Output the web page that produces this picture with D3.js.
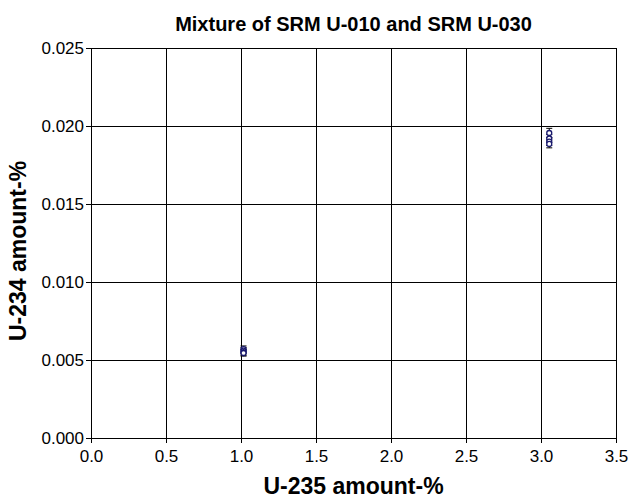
<!DOCTYPE html>
<html>
<head>
<meta charset="utf-8">
<script src="https://cdn.jsdelivr.net/npm/d3@7"></script>
<style>
  body { margin: 0; background: #fff; }
  text { font-family: "Liberation Sans", Arial, sans-serif; }
</style>
</head>
<body>
<div id="chart"></div>
<script>
var margin = {top: 48, right: 17, bottom: 61, left: 91},
    width = 633 - margin.left - margin.right,
    height = 499 - margin.top - margin.bottom;

// measured mixtures (U-235 amount-%, U-234 amount-%, uncertainty)
var u235 = [1.017, 1.017, 1.017, 1.017, 3.055, 3.055, 3.055, 3.055];
var u234 = [0.00570, 0.00560, 0.00550, 0.00545, 0.01955, 0.01920, 0.01900, 0.01885];
var u234err = [0.00020, 0.00020, 0.00020, 0.00020, 0.00030, 0.00025, 0.00025, 0.00025];

var xTicks = [0, 0.5, 1.0, 1.5, 2.0, 2.5, 3.0, 3.5];
var yTicks = [0, 0.005, 0.010, 0.015, 0.020, 0.025];

var points = u235.map(function(v, i) { return {x: v, y: u234[i], e: u234err[i]}; });

var x = d3.scaleLinear().domain([0, 3.5]).range([0, width]);
var y = d3.scaleLinear().domain([0, 0.025]).range([height, 0]);

var svg = d3.select("#chart").append("svg")
    .attr("width", 633)
    .attr("height", 499);

svg.append("text")
    .attr("x", margin.left + width / 2)
    .attr("y", 31)
    .attr("text-anchor", "middle")
    .style("font-size", "20px")
    .style("font-weight", "bold")
    .text("Mixture of SRM U-010 and SRM U-030");

var g = svg.append("g")
    .attr("transform", "translate(" + margin.left + "," + margin.top + ")");

// grid
g.selectAll(".vgrid")
  .data(xTicks)
  .enter().append("line")
    .attr("class", "vgrid")
    .attr("x1", function(d) { return Math.round(x(d)) + 0.5; })
    .attr("x2", function(d) { return Math.round(x(d)) + 0.5; })
    .attr("y1", 0)
    .attr("y2", height)
    .attr("stroke", "#000");

g.selectAll(".hgrid")
  .data(yTicks)
  .enter().append("line")
    .attr("class", "hgrid")
    .attr("x1", 0)
    .attr("x2", width)
    .attr("y1", function(d) { return Math.round(y(d)) + 0.5; })
    .attr("y2", function(d) { return Math.round(y(d)) + 0.5; })
    .attr("stroke", "#000");

var xAxis = d3.axisBottom(x)
    .tickValues(xTicks)
    .tickSize(5)
    .tickFormat(d3.format(".1f"));

var yAxis = d3.axisLeft(y)
    .tickValues(yTicks)
    .tickSize(5)
    .tickFormat(d3.format(".3f"));

g.append("g")
    .attr("transform", "translate(0," + height + ")")
    .call(xAxis)
    .call(function(a) {
      a.select(".domain").remove();
      a.selectAll("line").attr("stroke", "#000");
      a.selectAll("text")
        .attr("y", 10)
        .attr("dy", "0.8em")
        .style("font-size", "17px")
        .attr("fill", "#000");
    });

g.append("g")
    .call(yAxis)
    .call(function(a) {
      a.select(".domain").remove();
      a.selectAll("line").attr("stroke", "#000");
      a.selectAll("text")
        .attr("x", -7)
        .style("font-size", "17px")
        .attr("fill", "#000");
    });

// error bars
var eb = g.selectAll(".err")
  .data(points)
  .enter().append("g")
    .attr("class", "err");

eb.append("line")
    .attr("x1", function(d) { return x(d.x); })
    .attr("x2", function(d) { return x(d.x); })
    .attr("y1", function(d) { return y(d.y + d.e); })
    .attr("y2", function(d) { return y(d.y - d.e); })
    .attr("stroke", "#000");

eb.append("line")
    .attr("x1", function(d) { return x(d.x) - 3; })
    .attr("x2", function(d) { return x(d.x) + 3; })
    .attr("y1", function(d) { return y(d.y + d.e); })
    .attr("y2", function(d) { return y(d.y + d.e); })
    .attr("stroke", "#000");

eb.append("line")
    .attr("x1", function(d) { return x(d.x) - 3; })
    .attr("x2", function(d) { return x(d.x) + 3; })
    .attr("y1", function(d) { return y(d.y - d.e); })
    .attr("y2", function(d) { return y(d.y - d.e); })
    .attr("stroke", "#000");

g.selectAll(".dot")
  .data(points)
  .enter().append("circle")
    .attr("class", "dot")
    .attr("cx", function(d) { return x(d.x); })
    .attr("cy", function(d) { return y(d.y); })
    .attr("r", 2.5)
    .attr("fill", "#fff")
    .attr("stroke", "#1a1a6e")
    .attr("stroke-width", 1.3);

svg.append("text")
    .attr("x", margin.left + width / 2)
    .attr("y", 494)
    .attr("text-anchor", "middle")
    .style("font-size", "23px")
    .style("font-weight", "bold")
    .text("U-235 amount-%");

svg.append("text")
    .attr("transform", "translate(26," + (margin.top + height / 2 + 8) + ") rotate(-90)")
    .attr("text-anchor", "middle")
    .style("font-size", "23px")
    .style("font-weight", "bold")
    .text("U-234 amount-%");
</script>
</body>
</html>
